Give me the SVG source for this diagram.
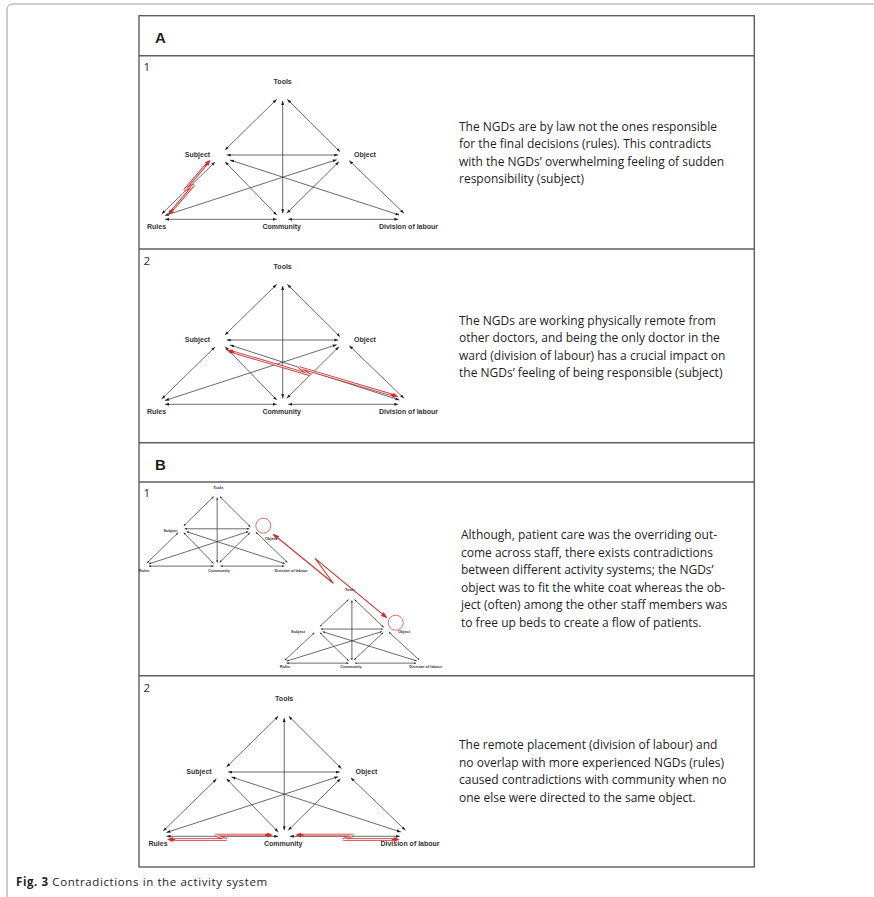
<svg xmlns="http://www.w3.org/2000/svg" xmlns:xlink="http://www.w3.org/1999/xlink" width="874" height="897" viewBox="0 0 874 897">
  <style>
    .frame { fill: none; stroke: #9a9a9a; stroke-width: 1; }
    .grid { fill: none; stroke: #5e5e5e; stroke-width: 1.4; }
    .hdr { font-family: "Liberation Sans", Arial, sans-serif; font-weight: bold; font-size: 15px; fill: #1e1e1e; }
    .num { font-family: "Open Sans", "Liberation Sans", sans-serif; font-size: 11.5px; fill: #2a2a2a; }
    .body { font-family: "Open Sans", "Liberation Sans", sans-serif; font-size: 12px; fill: #1e1e1e; }
    .cap { font-family: "Open Sans", "Liberation Sans", sans-serif; font-size: 11.5px; letter-spacing: 0.6px; fill: #1e1e1e; }
    .lbl { font-family: "Liberation Sans", Arial, sans-serif; font-weight: bold; font-size: 7px; fill: #333; text-anchor: middle; }
    .lbl-s { font-family: "Liberation Sans", Arial, sans-serif; font-weight: bold; font-size: 3.9px; fill: #333; text-anchor: middle; }
    .link { fill: none; stroke: #3a3a3a; stroke-width: 0.75; marker-start: url(#ah); marker-end: url(#ah); }
    .bolt { fill: none; stroke: #cc3030; stroke-width: 2.6; marker-start: url(#rh); marker-end: url(#rh); }
    .bolt-in { fill: none; stroke: #ffffff; stroke-width: 0.9; }
    .bolt-thin { fill: none; stroke: #cc3030; stroke-width: 1.1; marker-start: url(#rh2); marker-end: url(#rh2); }
    .ring { fill: none; stroke: #d65a55; stroke-width: 0.9; }
  </style>
  <defs>
    <marker id="ah" viewBox="0 0 4 3" refX="4" refY="1.5" markerWidth="4" markerHeight="3" markerUnits="userSpaceOnUse" orient="auto-start-reverse">
      <path d="M0,0 L4,1.5 L0,3 Z" fill="#222"/>
    </marker>
    <marker id="rh" viewBox="0 0 6 5" refX="3" refY="2.5" markerWidth="6" markerHeight="5" markerUnits="userSpaceOnUse" orient="auto-start-reverse">
      <path d="M0,0 L6,2.5 L0,5 Z" fill="#cc3030"/>
    </marker>
    <marker id="rh2" viewBox="0 0 7 5" refX="6" refY="2.5" markerWidth="7" markerHeight="5" markerUnits="userSpaceOnUse" orient="auto-start-reverse">
      <path d="M0,0 L7,2.5 L0,5 Z" fill="#cc3030"/>
    </marker>

    <!-- activity system triangle: twelve two-way links between six nodes -->
    <g id="as-links">
      <path class="link" vector-effect="non-scaling-stroke" d="M276.7,99.3 L225,150"/>
      <path class="link" vector-effect="non-scaling-stroke" d="M287.3,99.3 L340,151.7"/>
      <path class="link" vector-effect="non-scaling-stroke" d="M282.7,101 L282.7,213.3"/>
      <path class="link" vector-effect="non-scaling-stroke" d="M226.7,155 L338.3,155"/>
      <path class="link" vector-effect="non-scaling-stroke" d="M225,161.7 L276.7,215"/>
      <path class="link" vector-effect="non-scaling-stroke" d="M230,160 L399.3,215"/>
      <path class="link" vector-effect="non-scaling-stroke" d="M165,215.5 L336.7,159.7"/>
      <path class="link" vector-effect="non-scaling-stroke" d="M286.7,213.3 L339,161.7"/>
      <path class="link" vector-effect="non-scaling-stroke" d="M404,213.3 L349.3,160.7"/>
      <path class="link" vector-effect="non-scaling-stroke" d="M161.7,214 L215,162"/>
      <path class="link" vector-effect="non-scaling-stroke" d="M165,219.3 L276.7,219.3"/>
      <path class="link" vector-effect="non-scaling-stroke" d="M288.3,219.3 L398.3,219.3"/>
    </g>
    <!-- node labels of the full-size triangle -->
    <g id="as-nodes">
      <g id="as-tools"><text class="lbl" x="282.7" y="84.3">Tools</text></g>
      <g id="as-subject"><text class="lbl" x="197.5" y="157.3">Subject</text></g>
      <g id="as-object"><text class="lbl" x="365" y="157.3">Object</text></g>
      <g id="as-rules"><text class="lbl" x="156.5" y="229">Rules</text></g>
      <g id="as-community"><text class="lbl" x="281.7" y="229">Community</text></g>
      <g id="as-division"><text class="lbl" x="408.5" y="229">Division of labour</text></g>
    </g>
  </defs>

  <rect width="874" height="897" fill="#ffffff"/>

  <!-- page frame, open at right and bottom -->
  <path class="frame" d="M7,897 L7,10 Q7,4 13,4 L874,4"/>

  <!-- table grid -->
  <g id="table">
    <rect class="grid" x="139" y="15.7" width="615.3" height="851.3"/>
    <line class="grid" x1="139" y1="55.7" x2="754.3" y2="55.7"/>
    <line class="grid" x1="139" y1="249" x2="754.3" y2="249"/>
    <line class="grid" x1="139" y1="442.7" x2="754.3" y2="442.7"/>
    <line class="grid" x1="139" y1="482" x2="754.3" y2="482"/>
    <line class="grid" x1="139" y1="675.7" x2="754.3" y2="675.7"/>
  </g>

  <text class="hdr" x="155" y="42.7">A</text>
  <text class="hdr" x="155" y="469.5">B</text>
  <text class="num" x="143.5" y="71">1</text>
  <text class="num" x="143.5" y="265">2</text>
  <text class="num" x="143.5" y="497">1</text>
  <text class="num" x="143.5" y="692">2</text>

  <!-- A1 -->
  <g id="diagram-a1">
    <use xlink:href="#as-links"/>
    <use xlink:href="#as-nodes"/>
    <g id="a1-contradiction">
      <path class="bolt" d="M208.49,162 L184.37,189.98 L193.93,185.02 L169.82,213"/>
      <path class="bolt-in" d="M205.23,165.79 L184.37,189.98 L193.93,185.02 L173.08,209.21"/>
    </g>
  </g>
  <g id="text-a1" class="body">
    <text x="459" y="130.5">The NGDs are by law not the ones responsible</text>
    <text x="459" y="148">for the final decisions (rules). This contradicts</text>
    <text x="459" y="165.5">with the NGDs’ overwhelming feeling of sudden</text>
    <text x="459" y="183">responsibility (subject)</text>
  </g>

  <!-- A2 -->
  <g id="diagram-a2" transform="translate(0,185)">
    <use xlink:href="#as-links"/>
    <use xlink:href="#as-nodes"/>
  </g>
  <g id="a2-contradiction">
    <path class="bolt" d="M229.43,350.92 L309.43,374.68 L299.07,367.42 L395.57,396.08"/>
    <path class="bolt-in" d="M234.22,352.34 L309.43,374.68 L299.07,367.42 L390.78,394.66"/>
  </g>
  <g id="text-a2" class="body">
    <text x="459" y="324.5">The NGDs are working physically remote from</text>
    <text x="459" y="342">other doctors, and being the only doctor in the</text>
    <text x="459" y="359.5">ward (division of labour) has a crucial impact on</text>
    <text x="459" y="377">the NGDs’ feeling of being responsible (subject)</text>
  </g>

  <!-- B1: two activity systems whose objects are in contradiction -->
  <g id="diagram-b1-left">
    <use xlink:href="#as-links" transform="matrix(0.58,0,0,0.58,53.2,438.9)"/>
    <g id="b1l-tools"><text class="lbl-s" x="218.3" y="489.3">Tools</text></g>
    <g id="b1l-subject"><text class="lbl-s" x="170.5" y="531.7">Subject</text></g>
    <g id="b1l-object"><text class="lbl-s" x="271" y="540">Object</text></g>
    <g id="b1l-rules"><text class="lbl-s" x="144" y="571.7">Rules</text></g>
    <g id="b1l-community"><text class="lbl-s" x="219" y="572.3">Community</text></g>
    <g id="b1l-division"><text class="lbl-s" x="291" y="572.3">Division of labour</text></g>
  </g>
  <g id="diagram-b1-right">
    <use xlink:href="#as-links" transform="matrix(0.555,0,0,0.53,195,546.9)"/>
    <g id="b1r-tools"><text class="lbl-s" x="350" y="591">Tools</text></g>
    <g id="b1r-subject"><text class="lbl-s" x="298" y="633.3">Subject</text></g>
    <g id="b1r-object"><text class="lbl-s" x="404" y="633.3">Object</text></g>
    <g id="b1r-rules"><text class="lbl-s" x="285" y="668.3">Rules</text></g>
    <g id="b1r-community"><text class="lbl-s" x="351" y="668">Community</text></g>
    <g id="b1r-division"><text class="lbl-s" x="425.8" y="668.3">Division of labour</text></g>
  </g>
  <g id="b1-contradiction">
    <circle class="ring" cx="263.3" cy="525.7" r="7.5"/>
    <circle class="ring" cx="395.7" cy="622.7" r="7.5"/>
    <path class="bolt-thin" d="M273.3,534.3 L333.3,583.3 L315,558.3 L386.7,617.7"/>
  </g>
  <g id="text-b1" class="body">
    <text x="461" y="539">Although, patient care was the overriding out-</text>
    <text x="461" y="556.5">come across staff, there exists contradictions</text>
    <text x="461" y="574">between different activity systems; the NGDs’</text>
    <text x="461" y="591.5">object was to fit the white coat whereas the ob-</text>
    <text x="461" y="609">ject (often) among the other staff members was</text>
    <text x="461" y="626.5">to free up beds to create a flow of patients.</text>
  </g>

  <!-- B2 -->
  <g id="diagram-b2" transform="translate(1.5,617)">
    <use xlink:href="#as-links"/>
    <use xlink:href="#as-nodes"/>
  </g>
  <g id="b2-contradictions">
    <path class="bolt" d="M170,839.5 L226.7,839.5 L215,835 L270,835"/>
    <path class="bolt-in" d="M175,839.5 L226.7,839.5 L215,835 L265,835"/>
    <path class="bolt" d="M298.3,835 L353.3,835 L343.3,839.5 L396.7,839.5"/>
    <path class="bolt-in" d="M303.3,835 L353.3,835 L343.3,839.5 L391.7,839.5"/>
  </g>
  <g id="text-b2" class="body">
    <text x="459" y="749">The remote placement (division of labour) and</text>
    <text x="459" y="766.5">no overlap with more experienced NGDs (rules)</text>
    <text x="459" y="784">caused contradictions with community when no</text>
    <text x="459" y="801.5">one else were directed to the same object.</text>
  </g>

  <text class="cap" x="16" y="886"><tspan font-weight="bold">Fig. 3</tspan> Contradictions in the activity system</text>
</svg>
